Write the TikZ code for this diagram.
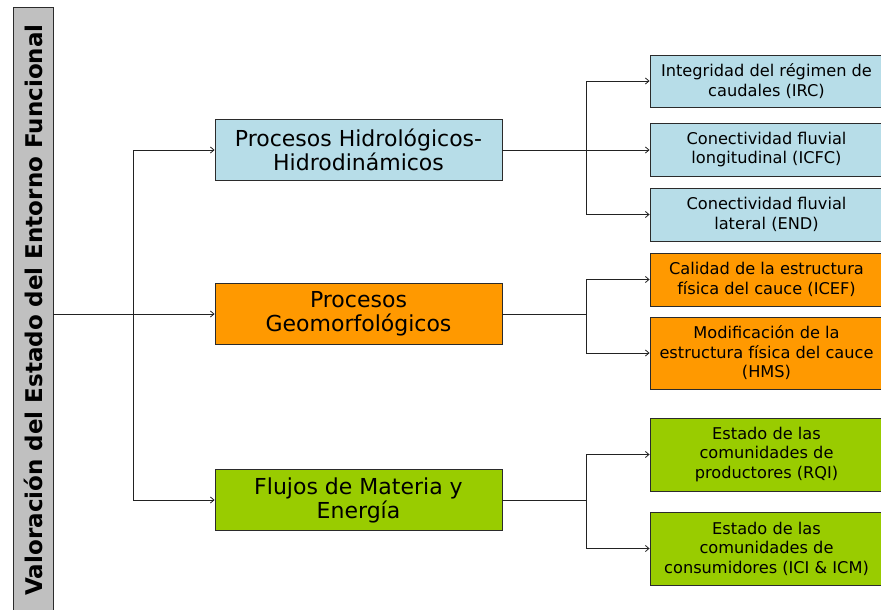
\documentclass[tikz,border=0pt]{standalone}
\usepackage{fontspec}
\setmainfont{DejaVu Sans}
\usetikzlibrary{arrows.meta}
\definecolor{titlegray}{HTML}{C0C0C0}
\definecolor{hydro}{HTML}{B7DDE8}
\definecolor{geomorf}{HTML}{FF9900}
\definecolor{flujos}{HTML}{99CC00}
\definecolor{edge}{HTML}{2B2B2B}
\definecolor{wire}{HTML}{222222}
\begin{document}
\begin{tikzpicture}[x=1pt,y=-1pt,
  box/.style={draw=edge, line width=0.9pt, inner sep=0pt, align=center, text=black},
  titlebox/.style={box, fill=titlegray, rotate=90, minimum width=616pt, minimum height=40pt,
    font=\bfseries\fontsize{23}{25}\selectfont},
  midbox/.style={box, minimum width=287pt, minimum height=61pt,
    font=\fontsize{22}{24}\selectfont},
  subbox/.style={box, minimum width=233pt, font=\fontsize{16.2}{19.5}\selectfont},
  link/.style={draw=wire, line width=0.8pt},
  arr/.style={link, -{Straight Barb[length=3.5pt,width=6pt,line width=0.8pt]}}]
\useasboundingbox (0,0) rectangle (881,610);

% title column on the left (leading space lifts the text slightly)
\node[titlebox] (vl) at (33,315) {\hspace*{10pt}Valoración del Estado del Entorno Funcional};

% three process groups
\node[midbox, fill=hydro]   (m1) at (358.5,150) {Procesos Hidrológicos-\\Hidrodinámicos};
\node[midbox, fill=geomorf] (m2) at (358.5,314) {Procesos\\Geomorfológicos};
\node[midbox, fill=flujos]  (m3) at (358.5,500) {Flujos de Materia y\\Energía};

% indicators
\node[subbox, fill=hydro, minimum height=52pt]   (r1) at (766.5,81)  {Integridad del régimen de\\caudales (IRC)};
\node[subbox, fill=hydro, minimum height=53pt]   (r2) at (766.5,149.5) {Conectividad fluvial\\longitudinal (ICFC)};
\node[subbox, fill=hydro, minimum height=53pt]   (r3) at (766.5,214.5) {Conectividad fluvial\\lateral (END)};
\node[subbox, fill=geomorf, minimum height=53pt] (r4) at (766.5,279.5) {Calidad de la estructura\\física del cauce (ICEF)};
\node[subbox, fill=geomorf, minimum height=72pt] (r5) at (766.5,353)   {Modificación de la\\estructura física del cauce\\(HMS)};
\node[subbox, fill=flujos, minimum height=73pt]  (r6) at (766.5,454.5) {Estado de las\\comunidades de\\productores (RQI)};
\node[subbox, fill=flujos, minimum height=73pt]  (r7) at (766.5,548.5) {Estado de las\\comunidades de\\consumidores (ICI \& ICM)};

% branching points
\coordinate (j0) at (133,314);
\coordinate (j1) at (586,150);
\coordinate (j2) at (586,314);
\coordinate (j3) at (586,500);

% title to process groups
\draw[arr] (vl.south |- m2.west) -- (m2.west);
\draw[arr] (j0) |- (m1.west);
\draw[arr] (j0) |- (m3.west);

% process groups to indicators
\draw[arr] (m1.east) -- (r2.west |- m1.east);
\draw[arr] (j1) |- (r1.west);
\draw[arr] (j1) |- (r3.west);

\draw[link] (m2.east) -- (j2);
\draw[arr] (j2) |- (r4.west);
\draw[arr] (j2) |- (r5.west);

\draw[link] (m3.east) -- (j3);
\draw[arr] (j3) |- (r6.west);
\draw[arr] (j3) |- (r7.west);
\end{tikzpicture}
\end{document}
